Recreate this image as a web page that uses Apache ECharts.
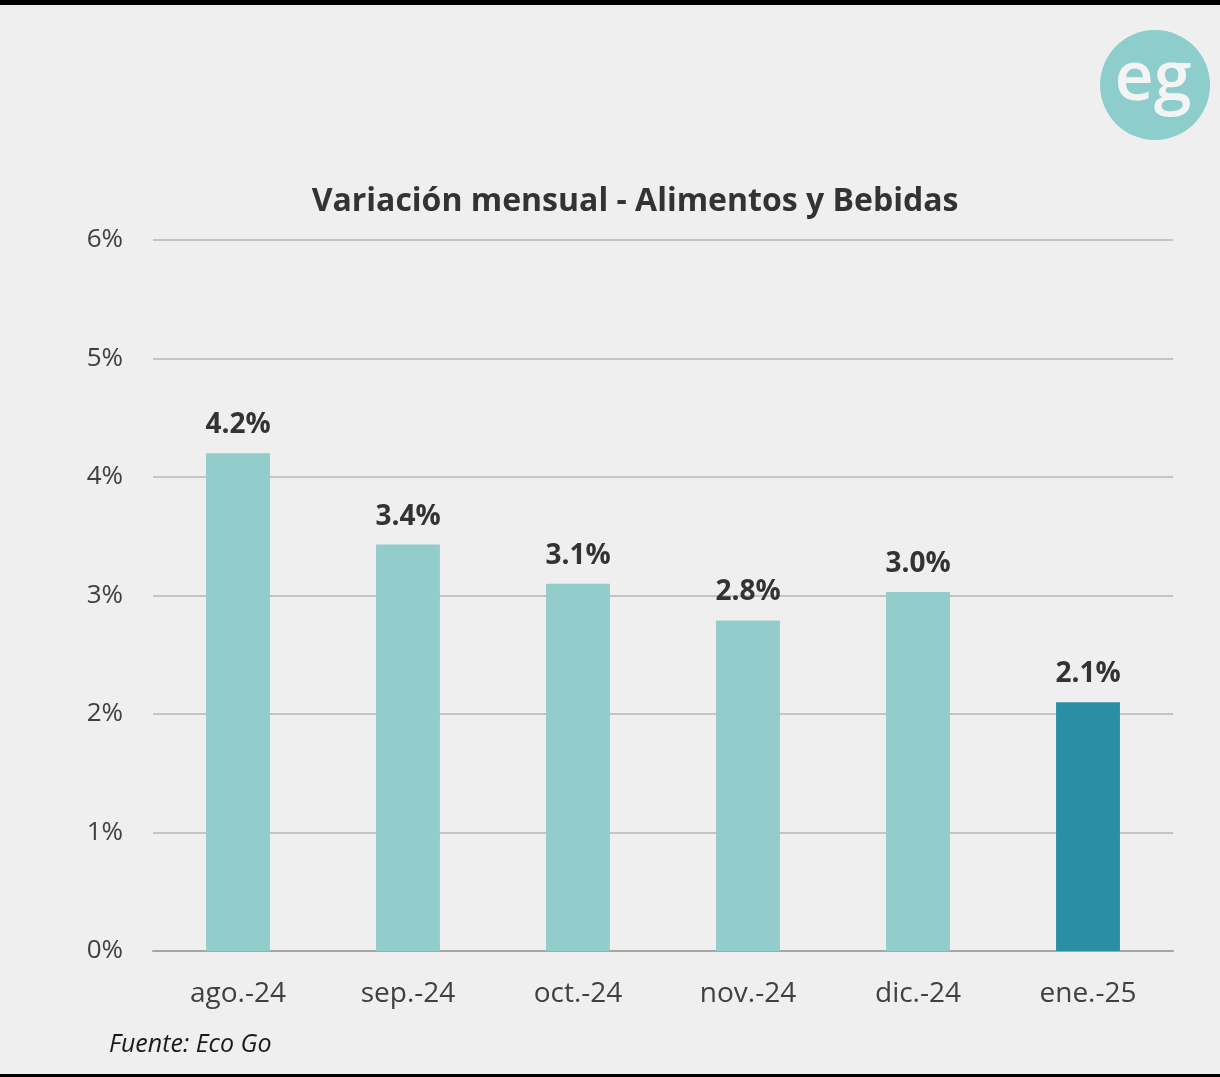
<!DOCTYPE html>
<html><head><meta charset="utf-8">
<script src="https://cdn.jsdelivr.net/npm/echarts@6/dist/echarts.min.js"></script>
<style>html,body{margin:0;padding:0;background:#000;}#c{position:absolute;left:0;top:5px;width:1220px;height:1069px;background:#efefef;}</style>
</head><body><div id="c"></div>
<script>
const categories = ['ago.-24','sep.-24','oct.-24','nov.-24','dic.-24','ene.-25'];
const values = [4.2, 3.43, 3.1, 2.79, 3.03, 2.1];
const yTicks = [0,1,2,3,4,5,6];
const barColors = ['#93cdcb','#93cdcb','#93cdcb','#93cdcb','#93cdcb','#2a8fa3'];
const font = '"Open Sans", "Noto Sans", sans-serif';
const chart = echarts.init(document.getElementById('c'), null, {renderer:'canvas'});
chart.setOption({
  backgroundColor:'#efefef',
  animation:false,
  title:{text:'Variación mensual - Alimentos y Bebidas',left:630,top:176,textAlign:'center',
    textStyle:{fontFamily:font,fontSize:32,fontWeight:'bold',color:'#333'}},
  grid:{left:153,right:47,top:235,bottom:1069-946},
  xAxis:{type:'category',data:categories,
    axisLine:{lineStyle:{color:'#a6a6a6',width:2}},axisTick:{show:false},
    axisLabel:{fontFamily:font,fontSize:28,color:'#404040',margin:29}},
  yAxis:{type:'value',min:0,max:6,interval:1,
    axisLine:{show:false},axisTick:{show:false},
    splitLine:{lineStyle:{color:'#c4c4c4',width:2}},
    axisLabel:{fontFamily:font,fontSize:26,color:'#404040',margin:30,formatter:v=>v+'%'}},
  series:[{type:'bar',barWidth:'37.6%',
    data:values.map((v,i)=>({value:v,itemStyle:{color:barColors[i]}})),
    label:{show:true,position:'top',distance:14,fontFamily:font,fontSize:28,fontWeight:'bold',color:'#333',
      formatter:p=>p.value.toFixed(1)+'%'}}],
  graphic:[
    {type:'circle',shape:{cx:1155,cy:80,r:55},style:{fill:'#8dcdcb'}},
    {type:'text',x:1153,y:76,style:{text:'eg',fill:'#f4f4f4',font:'600 68px "Open Sans", sans-serif',textAlign:'center',textVerticalAlign:'middle'}},
    {type:'text',x:109,y:1027,style:{text:'Fuente: Eco Go',fill:'#1a1a1a',font:'italic 25px "Open Sans", sans-serif'}}
  ]
});
</script></body></html>
